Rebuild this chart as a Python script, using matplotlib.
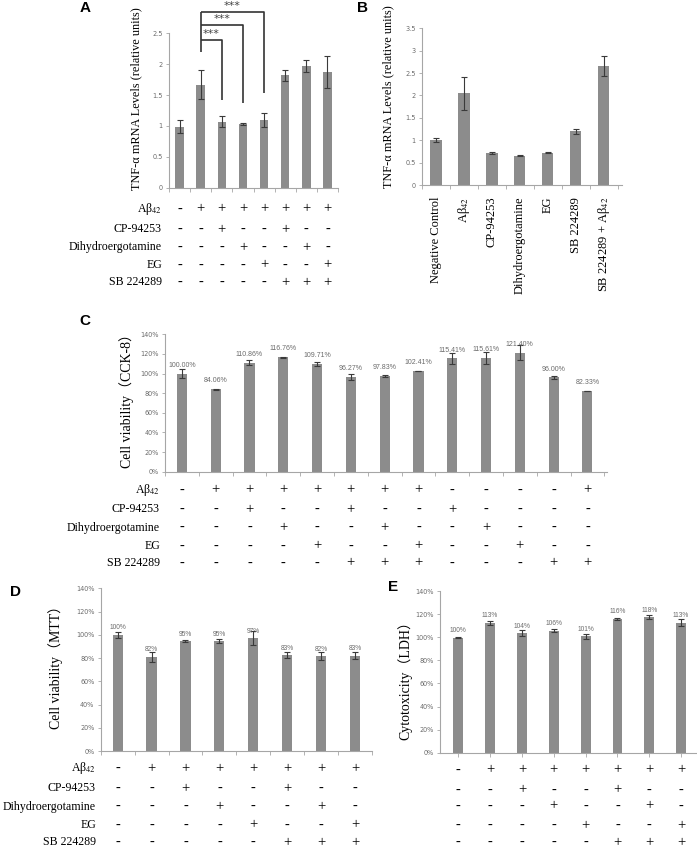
import numpy as np
import matplotlib
matplotlib.use('Agg')
import matplotlib.pyplot as plt
import matplotlib.transforms as mtransforms

plt.rcParams['mathtext.fontset'] = 'stix'

# ---- data ----
a_vals = [0.99, 1.67, 1.07, 1.03, 1.10, 1.82, 1.97, 1.87]
a_errs = [0.10, 0.24, 0.09, 0.02, 0.11, 0.09, 0.09, 0.26]

b_names = ['Negative Control', 'A\u03b2$_{42}$', 'CP-94253', 'Dihydroergotamine',
           'EG', 'SB 224289', 'SB 224289 + A\u03b2$_{42}$']
b_vals = [1.00, 2.05, 0.71, 0.65, 0.72, 1.20, 2.66]
b_errs = [0.04, 0.37, 0.02, 0.01, 0.01, 0.06, 0.22]

c_vals = [100.00, 84.06, 110.86, 116.76, 109.71, 96.27, 97.83, 102.41,
          115.41, 115.61, 121.40, 96.00, 82.33]
c_errs = [4.5, 0.5, 2.5, 0.5, 2.4, 2.9, 1.0, 0.3, 6.0, 6.0, 8.0, 2.0, 0.3]

d_vals = [100.0, 81.0, 94.5, 94.5, 97.0, 82.5, 81.5, 82.0]
d_errs = [2.6, 4.5, 1.1, 1.7, 6.0, 2.9, 3.4, 3.2]
d_text = ['100%', '82%', '95%', '95%', '97%', '83%', '82%', '83%']

e_vals = [99.7, 112.5, 103.5, 105.8, 100.7, 115.8, 117.5, 112.5]
e_errs = [0.5, 1.7, 2.6, 1.3, 2.3, 0.5, 1.7, 2.9]
e_text = ['100%', '113%', '104%', '106%', '101%', '116%', '118%', '113%']

row_names = ['A\u03b2$_{42}$', 'CP-94253', 'Dihydroergotamine', 'EG', 'SB 224289']
abeta8 = '-+++++++'
cp8 = '--+--+--'
dhe8 = '---+--+-'
eg8 = '----+--+'
sb8 = '-----+++'
abeta13 = '-+++++++----+'
cp13 = '--+--+--+----'
dhe13 = '---+--+--+---'
eg13 = '----+--+--+--'
sb13 = '-----+++---++'

# significance brackets in panel A: (target bar, bracket height, drop-to)
sig_targets = [2, 3, 4]
sig_heights = [2.39, 2.63, 2.84]
sig_drops = [1.42, 1.37, 1.53]

W, H = 697, 848
BAR = '#8c8c8c'
ERR = '#3a3a3a'
AXC = '#a6a6a6'
TCK = '#6b6b6b'
SERIF = 'Liberation Serif'
SERIF_CJK = ['Liberation Serif', 'Noto Sans CJK SC']

fig = plt.figure(figsize=(W / 100, H / 100), dpi=100)
fig.patch.set_facecolor('white')


def add_ax(l, t, r, b):
    return fig.add_axes([l / W, 1 - b / H, (r - l) / W, (b - t) / H])


def style(ax, n, xlim, ylim, yticks, fmt, ticks_between=True):
    ax.set_xlim(*xlim)
    ax.set_ylim(*ylim)
    for s in ['top', 'right']:
        ax.spines[s].set_visible(False)
    for s in ['left', 'bottom']:
        ax.spines[s].set_color(AXC)
        ax.spines[s].set_linewidth(0.8)
    ax.set_yticks(yticks)
    ax.set_yticklabels([fmt(v) for v in yticks])
    ax.tick_params(axis='y', length=2.5, width=0.6, color=AXC,
                   labelsize=4.7, labelcolor=TCK, pad=2)
    if ticks_between:
        ax.set_xticks(np.arange(-0.5, n, 1.0), minor=True)
        ax.set_xticks(range(n))
        ax.tick_params(axis='x', which='major', length=0)
        ax.tick_params(axis='x', which='minor', length=3, width=0.6, color=AXC)
    else:
        ax.set_xticks(range(n))
        ax.tick_params(axis='x', length=3, width=0.6, color=AXC)
    ax.set_xticklabels([])


def bars(ax, vals, errs, width):
    x = np.arange(len(vals))
    ax.bar(x, vals, width=width, color=BAR, zorder=2)
    ax.errorbar(x, vals, yerr=errs, fmt='none', ecolor=ERR, elinewidth=0.8,
                capsize=2, capthick=0.8, zorder=3)


def value_labels(ax, vals, texts, fs, off):
    for i, (v, t) in enumerate(zip(vals, texts)):
        ax.annotate(t, (i, v), xytext=(0, off), textcoords='offset points',
                    ha='center', va='bottom', fontsize=fs, color=TCK,
                    family='Liberation Sans')


def sign_table(ax, rows, ys, label_x=None, fs=10.5):
    trans = mtransforms.blended_transform_factory(ax.transData, fig.transFigure)
    for k, (row, y) in enumerate(zip(rows, ys)):
        yf = 1 - y / H
        for i, s in enumerate(row):
            ax.text(i, yf, s, transform=trans, ha='center', va='center',
                    fontsize=fs, family=SERIF, clip_on=False)
        if label_x is not None:
            fig.text(label_x / W, yf, row_names[k], ha='right', va='center',
                     fontsize=8.6, family=SERIF)


def panel_letter(x, y, s):
    fig.text(x / W, 1 - y / H, s, ha='center', va='center', fontsize=11,
             fontweight='bold', family='Liberation Sans')


def ylab(x, y, s, fs, fam):
    fig.text(x / W, 1 - y / H, s, rotation=90, ha='center', va='center',
             fontsize=fs, family=fam)


pct = lambda v: '%d%%' % v
num = lambda v: ('%g' % v)

# ---- panel A ----
axA = add_ax(169, 33.3, 338, 187.7)
bars(axA, a_vals, a_errs, 0.4)
style(axA, 8, (-0.5, 7.5), (0, 2.5), [0, 0.5, 1, 1.5, 2, 2.5], num)
axA.plot([1, 1], [2.2, max(sig_heights)], color='#333333', lw=1.2,
         clip_on=False, solid_capstyle='butt')
for tgt, hgt, drop in zip(sig_targets, sig_heights, sig_drops):
    axA.plot([1, tgt, tgt], [hgt, hgt, drop], color='#333333', lw=1.2,
             clip_on=False, solid_capstyle='butt')
    axA.text((1 + tgt) / 2, hgt + 0.02, '***', ha='center', va='bottom',
             fontsize=8, color='#444444', clip_on=False)
sign_table(axA, [abeta8, cp8, dhe8, eg8, sb8], [209, 229.3, 247.3, 265, 282.3],
           label_x=162)
ylab(136, 99, 'TNF-\u03b1 mRNA Levels (relative units)', 8.8, SERIF)
panel_letter(85, 8, 'A')

# ---- panel B ----
axB = add_ax(421.7, 28.3, 621.7, 185)
bars(axB, b_vals, b_errs, 0.42)
style(axB, 7, (-0.5, 6.65), (0, 3.5), [0, 0.5, 1, 1.5, 2, 2.5, 3, 3.5], num)
axB.set_xticklabels(b_names, rotation=90, fontsize=9, family=SERIF)
axB.tick_params(axis='x', which='major', pad=8.5)
ylab(388, 97, 'TNF-\u03b1 mRNA Levels (relative units)', 8.8, SERIF)
panel_letter(362, 8, 'B')

# ---- panel C ----
axC = add_ax(165, 334.3, 607, 471.7)
bars(axC, c_vals, c_errs, 0.3)
style(axC, 13, (-0.5, 12.58), (0, 140), list(range(0, 141, 20)), pct)
value_labels(axC, c_vals, ['%.2f%%' % v for v in c_vals], 5, 3.5)
sign_table(axC, [abeta13, cp13, dhe13, eg13, sb13], [490, 509.5, 527.5, 546, 563],
           label_x=160)
ylab(127, 398, 'Cell viability\uff08CCK-8\uff09', 10, SERIF_CJK)
panel_letter(85, 321, 'C')

# ---- panel D ----
axD = add_ax(100.7, 588.3, 372, 751)
bars(axD, d_vals, d_errs, 0.3)
style(axD, 8, (-0.5, 7.5), (0, 140), list(range(0, 141, 20)), pct)
value_labels(axD, d_vals, d_text, 4.8, 2.5)
sign_table(axD, [abeta8, cp8, dhe8, eg8, sb8], [768.3, 788.3, 806.7, 825, 842.3],
           label_x=96)
ylab(56, 664, 'Cell viability\uff08MTT\uff09', 10, SERIF_CJK)
panel_letter(15, 592, 'D')

# ---- panel E ----
axE = add_ax(440, 591, 697, 752.7)
bars(axE, e_vals, e_errs, 0.31)
style(axE, 8, (-0.575, 7.5), (0, 140), list(range(0, 141, 20)), pct,
      ticks_between=False)
value_labels(axE, e_vals, e_text, 4.8, 2.5)
sign_table(axE, [abeta8, cp8, dhe8, eg8, sb8], [770, 790, 806, 825.7, 842.7])
ylab(405, 677, 'Cytotoxicity\uff08LDH\uff09', 10, SERIF_CJK)
panel_letter(393, 587, 'E')

fig.savefig('out.png', dpi=100, facecolor='white')
